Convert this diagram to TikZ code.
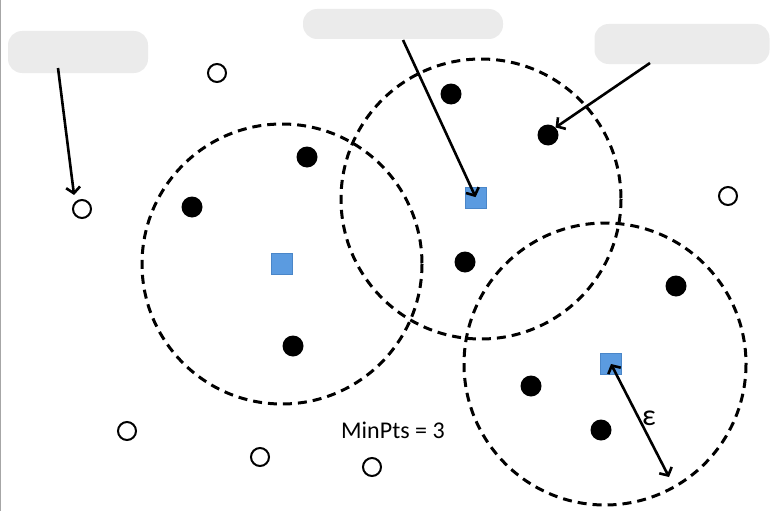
\documentclass[tikz,border=0pt]{standalone}
\usepackage{fontspec}
\setmainfont{Carlito}
\usetikzlibrary{arrows.meta}
\definecolor{blobgrey}{HTML}{EBEBEB}
\definecolor{sqblue}{HTML}{5B9BE0}
\definecolor{sqedge}{HTML}{4A86C8}
\begin{document}
\begin{tikzpicture}[x=1pt,y=-1pt,
  core/.style={circle,fill=black,inner sep=0pt,minimum size=21pt},
  noise/.style={circle,draw=black,line width=2pt,fill=white,inner sep=0pt,minimum size=18pt},
  centre/.style={rectangle,fill=sqblue,draw=sqedge,line width=0.6pt,inner sep=0pt,minimum size=21pt},
  region/.style={draw=black,dash pattern=on 9pt off 6pt,line width=3pt},
  blob/.style={fill=blobgrey,draw=none,rounded corners=14pt},
  pointer/.style={-{Straight Barb[length=6pt,width=14pt]},line width=2.6pt},
  dpointer/.style={{Straight Barb[length=6pt,width=14pt]}-{Straight Barb[length=6pt,width=14pt]},line width=2.6pt}
]
\useasboundingbox (0,0) rectangle (781,511);
\draw[black!35,line width=1pt] (0.5,0) -- (0.5,511);
% blobs (obscured labels)
\node[blob,minimum width=140pt,minimum height=42pt] (bl) at (78,52) {};
\node[blob,minimum width=200pt,minimum height=30pt] (bt) at (403,24) {};
\node[blob,minimum width=175pt,minimum height=40pt] (br) at (682,44) {};
\coordinate (blS) at (58,68);
\coordinate (btS) at (403,40);
\coordinate (brS) at (650,63);
% regions
\draw[region] (282,264) circle (140);
\draw[region] (481,199) circle (140);
\draw[region] (605,364) circle (141);
% centres
\node[centre] (c1) at (282,264) {};
\node[centre] (c2) at (476,198) {};
\node[centre] (c3) at (611,364) {};
% core points
\node[core] (p1) at (307,157) {};
\node[core] (p2) at (192,207) {};
\node[core] (p3) at (293,346) {};
\node[core] (p4) at (451,94) {};
\node[core] (p5) at (548,135) {};
\node[core] (p6) at (465,262) {};
\node[core] (p7) at (676,286) {};
\node[core] (p8) at (531,386) {};
\node[core] (p9) at (601,430) {};
% noise points
\node[noise] (n1) at (217,73) {};
\node[noise] (n2) at (82,209) {};
\node[noise] (n3) at (728,196) {};
\node[noise] (n4) at (127,431) {};
\node[noise] (n5) at (260,457) {};
\node[noise] (n6) at (372,467) {};
% arrows
\draw[pointer,shorten >=7pt] (blS) -- (n2.north west);
\draw[pointer,shorten >=1pt] (btS) -- (c2.center);
\draw[pointer] (brS) -- (p5.north east);
\coordinate (epsEnd) at (669,477);
\draw[dpointer] (c3.center) -- (epsEnd);
\node[font=\fontsize{30}{32}\selectfont] (eps) at (649,418) {ε};
\node[font=\fontsize{24}{26}\selectfont] (mp) at (393,430) {MinPts = 3};
\end{tikzpicture}
\end{document}
